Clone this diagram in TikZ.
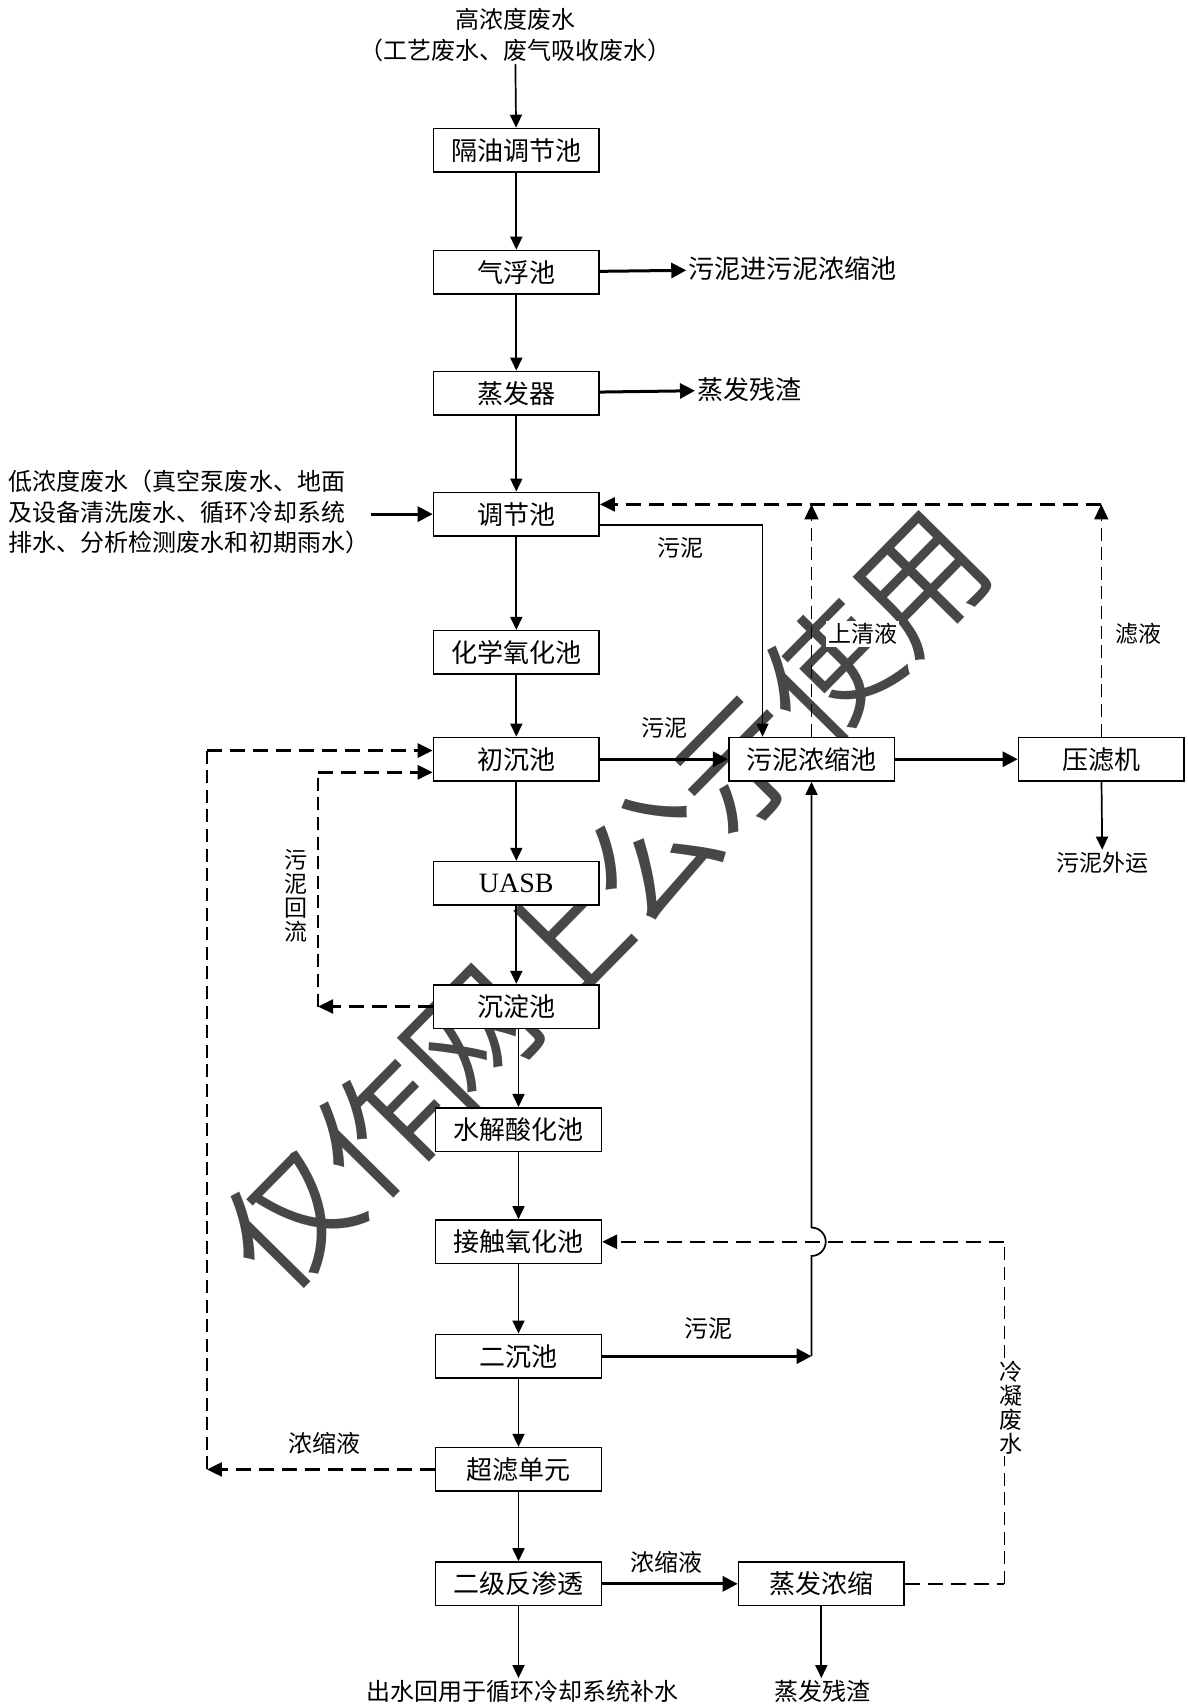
\documentclass[tikz,border=0pt]{standalone}
\usepackage{fontspec}
\setmainfont{Noto Sans CJK SC}
\newfontfamily\tnr{Liberation Serif}
\usetikzlibrary{arrows.meta}

\begin{document}
\begin{tikzpicture}[x=0.5445pt, y=-0.5445pt,
  box/.style={draw, line width=0.8pt, fill=white, minimum width=82.8pt, minimum height=21.8pt, inner sep=0pt, font=\fontsize{13}{15}\selectfont},
  txt/.style={fill=white, inner sep=1pt, font=\fontsize{12}{15.2}\selectfont},
  lbl/.style={fill=white, inner sep=1pt, font=\fontsize{11.5}{12}\selectfont},
  flow/.style={line width=0.85pt, -{Triangle[length=6.5pt, width=6pt]}},
  bflow/.style={line width=1.5pt, -{Triangle[length=7.5pt, width=7.5pt]}},
  dline/.style={line width=1.3pt, dash pattern=on 7.5pt off 4pt},
  dflow/.style={dline, -{Triangle[length=7.5pt, width=7pt]}},
  vflow/.style={line width=0.7pt, dash pattern=on 6.5pt off 3.3pt},
  vup/.style={vflow, -{Triangle[length=7.5pt, width=7pt]}}]
	\useasboundingbox (0,0) rectangle (1090,1568);
	% watermark
	\node[rotate=45.4, text=black!72, inner sep=0pt, font=\fontsize{64}{64}\selectfont] (wm) at (556,826) {仅作网上公示使用};
	% main column
	\node[txt] (hi) at (473,18) {高浓度废水};
	\node[txt] (hi2) at (473,46) {（工艺废水、废气吸收废水）};
	\node[box] (gy) at (474,138) {隔油调节池};
	\node[box] (qf) at (474,250) {气浮池};
	\node[box] (zfq) at (474,361) {蒸发器};
	\node[box] (tj) at (474,472) {调节池};
	\node[box] (hx) at (474,599) {化学氧化池};
	\node[box] (cc) at (474,697) {初沉池};
	\node[box, font=\tnr\fontsize{14}{15}\selectfont] (uasb) at (474,811) {UASB};
	\node[box] (cd) at (474,924) {沉淀池};
	\node[box] (sj) at (476,1037) {水解酸化池};
	\node[box] (jc) at (476,1140) {接触氧化池};
	\node[box] (ec) at (476,1245) {二沉池};
	\node[box] (cl) at (476,1349) {超滤单元};
	\node[box] (ro) at (476,1454) {二级反渗透};
	\node[box] (zn) at (754,1454) {蒸发浓缩};
	\node[box] (ws) at (745,697) {污泥浓缩池};
	\node[box] (ylj) at (1011,697) {压滤机};
	% side texts
	\node[txt, anchor=west, font=\fontsize{13}{15}\selectfont] (t1) at (630,247) {污泥进污泥浓缩池};
	\node[txt, anchor=west, font=\fontsize{13}{15}\selectfont] (t2) at (638,358) {蒸发残渣};
	\node[txt, anchor=west, align=left] (lo) at (6,470) {低浓度废水（真空泵废水、地面\\及设备清洗废水、循环冷却系统\\排水、分析检测废水和初期雨水）};
	\node[lbl] (tout) at (1012,792) {污泥外运};
	\node[txt] (tro) at (480,1553) {出水回用于循环冷却系统补水};
	\node[txt] (tzn) at (755,1553) {蒸发残渣};
	% labels
	\node[lbl] (l1) at (625,503) {污泥};
	\node[lbl] (l2) at (610,668) {污泥};
	\node[lbl] (l3) at (792,582) {上清液};
	\node[lbl] (l4) at (1045,582) {滤液};
	\node[lbl, align=center] (l5) at (272,822) {污\\泥\\回\\流};
	\node[lbl, align=center] (l6) at (928,1292) {冷\\凝\\废\\水};
	\node[txt] (l7) at (650,1220) {污泥};
	\node[txt] (l8) at (298,1325) {浓缩液};
	\node[txt] (l9) at (612,1434) {浓缩液};
	% bends
	\coordinate (rt) at (1011,463);
	\coordinate (rs) at (745,463);
	\coordinate (rb1) at (292,924);
	\coordinate (rb2) at (292,709);
	\coordinate (nl1) at (190,1349);
	\coordinate (nl2) at (190,689);
	\coordinate (lw1) at (922,1454);
	\coordinate (lw2) at (922,1140);
	\coordinate (es) at (745,1245);
	\coordinate (hop) at (745,1153);
	% flow
	\draw[flow] (hi2) -- (gy);
	\draw[flow] (gy) -- (qf);
	\draw[flow] (qf) -- (zfq);
	\draw[flow] (zfq) -- (tj);
	\draw[flow] (tj) -- (hx);
	\draw[flow] (hx) -- (cc);
	\draw[flow] (cc) -- (uasb);
	\draw[flow] (uasb) -- (cd);
	\draw[flow] (cd.south -| sj) -- (sj);
	\draw[flow] (sj) -- (jc);
	\draw[flow] (jc) -- (ec);
	\draw[flow] (ec) -- (cl);
	\draw[flow] (cl) -- (ro);
	\draw[flow] (ro) -- (ro |- tro.north);
	\draw[flow] (zn) -- (zn |- tzn.north);
	\draw[flow] (ylj) -- (tout);
	\draw[bflow] (qf) -- (t1);
	\draw[bflow] (zfq) -- (t2);
	\draw[bflow] (lo.east |- tj) -- (tj);
	\draw[bflow] (cc) -- (ws);
	\draw[bflow] (ws) -- (ylj);
	\draw[bflow] (ro) -- (zn);
	% sludge
	\draw[flow] ([yshift=-5.4pt]tj.east) -| ([xshift=-24.5pt]ws.north);
	\draw[bflow] (ec) -- (es);
	\draw[flow] (es) -- (hop) arc[start angle=-90, end angle=90, radius=7.1pt] -- (ws);
	% returns
	\draw[vup] (ylj) -- (rt);
	\draw[vup] (ws) -- (rs);
	\draw[dflow] (rt) -- (tj.east |- rt);
	\draw[dflow] (cd) -- (rb1);
	\draw[vflow] (rb1) -- (rb2);
	\draw[dflow] (rb2) -- (cc.west |- rb2);
	\draw[dflow] (cl) -- (nl1);
	\draw[vflow] (nl1) -- (nl2);
	\draw[dflow] (nl2) -- (cc.west |- nl2);
	\draw[dline] (zn) -- (lw1);
	\draw[vflow] (lw1) -- (lw1 |- l6.south);
	\draw[vflow] (lw1 |- l6.north) -- (lw2);
	\draw[dflow] (lw2) -- (jc);
\end{tikzpicture}
\end{document}
